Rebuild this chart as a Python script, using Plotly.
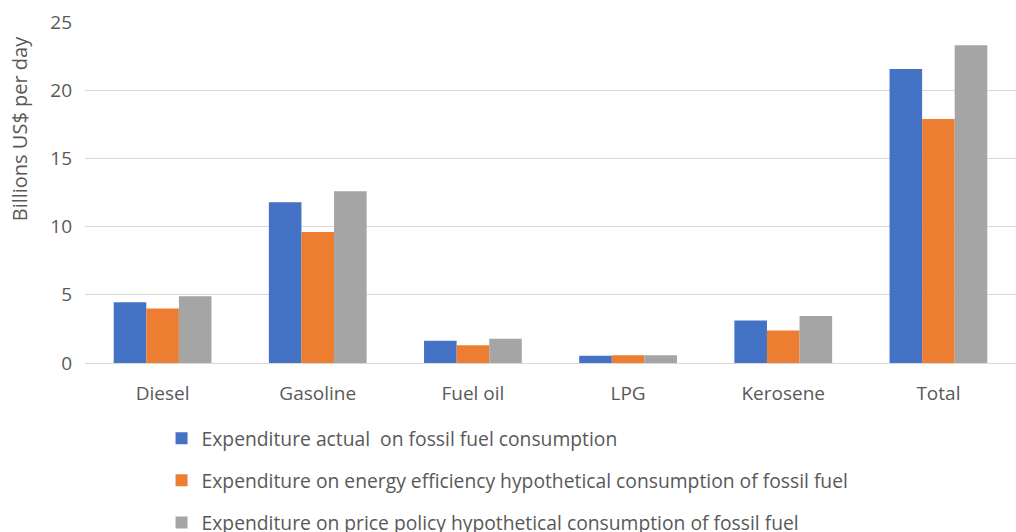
import plotly.graph_objects as go

categories = ["Diesel", "Gasoline", "Fuel oil", "LPG", "Kerosene", "Total"]
actual = [4.45, 11.78, 1.63, 0.53, 3.12, 21.56]
efficiency = [4.0, 9.6, 1.31, 0.57, 2.39, 17.88]
price_policy = [4.9, 12.6, 1.78, 0.57, 3.44, 23.3]

series_names = [
    "Expenditure actual  on fossil fuel consumption",
    "Expenditure on energy efficiency hypothetical consumption of fossil fuel",
    "Expenditure on price policy hypothetical consumption of fossil fuel",
]
series_values = [actual, efficiency, price_policy]
colors = ["#4472C4", "#ED7D31", "#A5A5A5"]

FONT = "Open Sans"
TEXT = "#595959"

fig = go.Figure()
for i, (name, vals, col) in enumerate(zip(series_names, series_values, colors)):
    fig.add_trace(go.Bar(
        x=categories, y=vals, name=name, legendgroup=f"g{i}",
        marker=dict(color=col, line=dict(width=0)),
    ))

fig.update_layout(
    width=1016, height=532,
    margin=dict(l=85, r=0, t=22, b=169, autoexpand=False),
    plot_bgcolor="white", paper_bgcolor="white",
    barmode="group", bargap=0.37, bargroupgap=0,
    font=dict(family=FONT, color=TEXT, size=16),
    showlegend=True,
    legend=dict(
        orientation="v", xref="container", yref="container",
        x=0.159, y=0.212, xanchor="left", yanchor="top",
        font=dict(family=FONT, size=19.3, color=TEXT),
        tracegroupgap=14, itemwidth=30,
        bgcolor="rgba(0,0,0,0)",
    ),
    xaxis=dict(
        showline=True, linecolor="#D9D9D9", linewidth=1,
        ticks="", tickfont=dict(size=19, color=TEXT),
        ticklabelstandoff=13,
    ),
    yaxis=dict(
        range=[0, 25], tickvals=[0, 5, 10, 15, 20, 25],
        showgrid=True, gridcolor="#D9D9D9", gridwidth=1,
        zeroline=False, showline=False, ticks="",
        tickfont=dict(size=19, color=TEXT), ticklabelstandoff=12,
    ),
    annotations=[dict(
        text="Billions US$ per day", textangle=-90,
        xref="paper", yref="paper", x=-0.071, y=0.688,
        xanchor="center", yanchor="middle", showarrow=False,
        font=dict(family=FONT, size=20, color=TEXT),
    )],
)

fig.write_html("out.html")
